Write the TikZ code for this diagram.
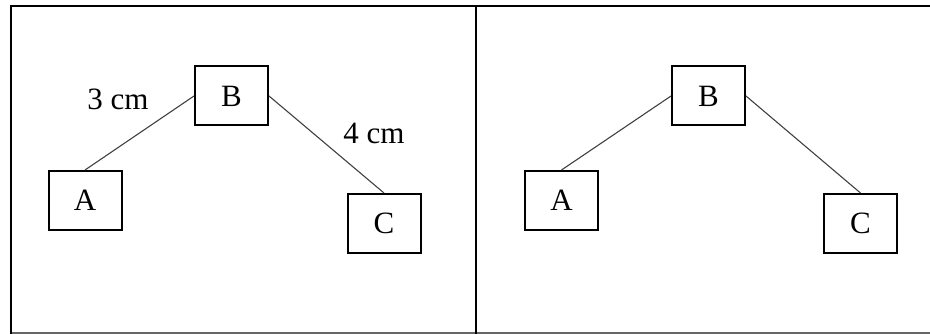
\documentclass[tikz,border=0pt]{standalone}
\usepackage{fontspec}
\setmainfont{Liberation Serif}
\begin{document}
\begin{tikzpicture}[x=1pt,y=-1pt,
  box/.style={draw=black,line width=2pt,minimum width=73pt,minimum height=59pt,inner sep=0pt,
    font=\fontsize{31}{36}\selectfont},
  conn/.style={draw=black!75,line width=1.1pt},
  lbl/.style={font=\fontsize{31}{36}\selectfont,inner sep=0pt,anchor=base},
  frame/.style={draw=black,line width=2.5pt}]
\useasboundingbox (0,0) rectangle (930,334);
% frame
\coordinate (tl) at (11,6);
\coordinate (tr) at (930,6);
\coordinate (bl) at (11,334);
\coordinate (dt) at (476,6);
\coordinate (db) at (476,334);
\coordinate (gl) at (11,333);
\coordinate (gr) at (930,333);
\draw[draw=black!60,line width=1.2pt] (gl) -- (gr);
\draw[frame] (bl) -- (tl) -- (tr);
\draw[frame] (dt) -- (db);
% left panel
\node[box] (B1) at (231.5,96) {B};
\node[box] (A1) at (85,200.5) {A};
\node[box] (C1) at (384,223.5) {C};
\draw[conn] (A1.north) -- (B1.west);
\draw[conn] (B1.east) -- (C1.north);
\node[lbl] (l3) at (118,110) {3 cm};
\node[lbl] (l4) at (374,144) {4 cm};
% right panel
\node[box] (B2) at (708.5,96) {B};
\node[box] (A2) at (561.5,200.5) {A};
\node[box] (C2) at (860.5,223.5) {C};
\draw[conn] (A2.north) -- (B2.west);
\draw[conn] (B2.east) -- (C2.north);
\end{tikzpicture}
\end{document}
